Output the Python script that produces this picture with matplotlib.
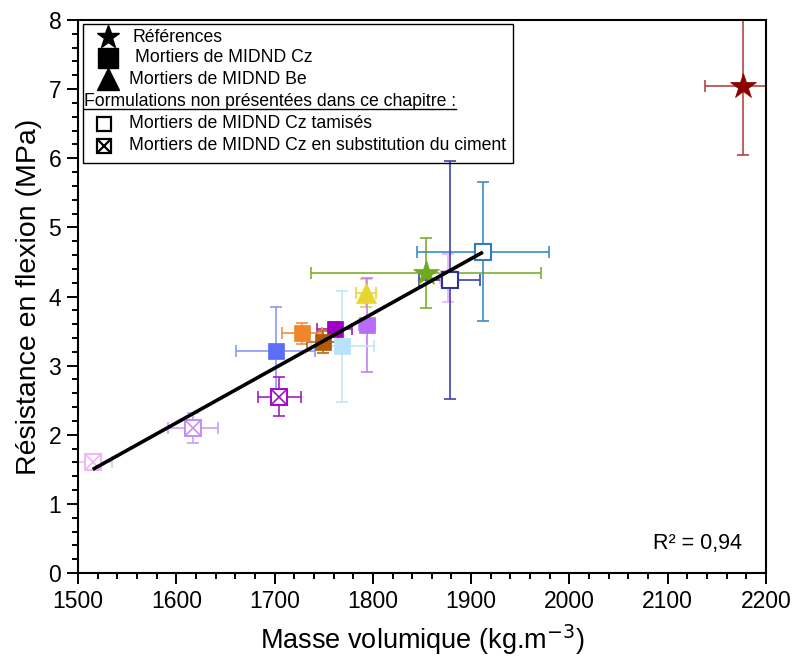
import matplotlib
matplotlib.use("Agg")
import matplotlib.pyplot as plt
import numpy as np
from matplotlib import font_manager
from matplotlib.lines import Line2D
from matplotlib.patches import Rectangle

# --- data ---
density = [2177, 1854, 1912, 1876, 1878, 1793, 1794, 1769, 1761, 1728, 1749, 1701, 1705, 1617, 1515]
flexion = [7.05, 4.34, 4.65, 4.27, 4.24, 4.05, 3.59, 3.28, 3.53, 3.47, 3.34, 3.21, 2.55, 2.10, 1.61]
density_err = [39, 117, 67, 8, 31, 10, 8, 32, 18, 20, 16, 40, 22, 25, 20]
flexion_err = [1.0, 0.5, 1.0, 0.35, 1.72, 0.2, 0.68, 0.8, 0.1, 0.15, 0.16, 0.64, 0.28, 0.22, 0.1]
kinds = ["star", "star", "open", "square", "open", "triangle", "square", "square",
         "square", "square", "square", "square", "xsq", "xsq", "xsq"]
colors = ["#8B0000", "#6FAA1E", "#2E7DBE", "#F0B4F8", "#2B3597", "#E8D630", "#B86CFA",
          "#B8E2FA", "#A000C4", "#F0862A", "#B35A08", "#5A6EF8", "#A010C4", "#C490F8", "#EEB8F4"]
err_colors = ["#B04848", "#7AB030", "#3A8CCB", "#EAB0F8", "#3A44A8", "#E8D630", "#C080FA",
              "#C4E6FA", "#A020C4", "#F09040", "#B86818", "#8A98FA", "#A020C4", "#C8A0F8", "#EEC0F4"]
in_fit = [False] + [True] * 14

r2_text = "R² = 0,94"

narrow = "Liberation Sans Narrow"
names = {f.name for f in font_manager.fontManager.ttflist}
tick_font = narrow if narrow in names else "Liberation Sans"
tick_size = 20 if narrow in names else 16.5

fig = plt.figure(figsize=(7.93, 6.63), dpi=100)
ax = fig.add_axes([78 / 793, 90 / 663, 688 / 793, 553 / 663])

markers = {"star": "*", "open": "s", "square": "s", "triangle": "^", "xsq": "s"}
sizes = {"star": 19, "open": 11, "square": 11, "triangle": 14, "xsq": 11}

for i in range(len(density)):
    k = kinds[i]
    ax.errorbar(density[i], flexion[i], xerr=density_err[i], yerr=flexion_err[i],
                fmt="none", ecolor=err_colors[i], elinewidth=1.2, capsize=4, capthick=1.2, zorder=2)
    face = "white" if k in ("open", "xsq") else colors[i]
    ax.plot(density[i], flexion[i], marker=markers[k], ms=sizes[k], mfc=face,
            mec=colors[i], mew=1.5 if k in ("open", "xsq") else 0.5, ls="none", zorder=3)
    if k == "xsq":
        ax.plot(density[i], flexion[i], marker="x", ms=sizes[k] - 1, mec=colors[i], mew=1.2,
                ls="none", zorder=4)

# linear fit over the MIDND formulations
fx = np.array([d for d, f in zip(density, in_fit) if f])
fy = np.array([v for v, f in zip(flexion, in_fit) if f])
slope, icpt = np.polyfit(fx, fy, 1)
xs = np.array([fx.min(), fx.max()])
ax.plot(xs, slope * xs + icpt, color="black", lw=2.6, zorder=5, solid_capstyle="butt")

ax.set_xlim(1500, 2200)
ax.set_ylim(0, 8)
ax.set_xticks(np.arange(1500, 2201, 100))
ax.set_yticks(np.arange(0, 9, 1))
ax.set_xticks(np.arange(1500, 2201, 20), minor=True)
ax.set_yticks(np.arange(0, 8.01, 0.2), minor=True)
ax.tick_params(which="major", direction="out", length=8, width=1.4, pad=4,
               top=False, right=False)
ax.tick_params(which="minor", direction="out", length=4.5, width=1.4, top=False, right=False)
for lab in ax.get_xticklabels() + ax.get_yticklabels():
    lab.set_fontfamily(tick_font)
    lab.set_fontsize(tick_size)
for s in ax.spines.values():
    s.set_linewidth(1.5)

ax.set_xlabel("Masse volumique (kg.m$^{-3}$)", fontsize=19.5, family="Liberation Sans", labelpad=7)
ax.set_ylabel("Résistance en flexion (MPa)", fontsize=20.5, family="Liberation Sans", labelpad=5)

ax.text(0.965, 0.035, r2_text, transform=ax.transAxes, ha="right", va="bottom",
        fontsize=15.5, family=tick_font)

# custom legend box
lx0, lx1, ly0, ly1 = 5 / 688, 435 / 688, 1 - 163 / 553 + 20 / 553, 1 - 4 / 553
ax.add_patch(Rectangle((lx0, ly0), lx1 - lx0, ly1 - ly0, transform=ax.transAxes,
                       fill=False, ec="black", lw=1.0, zorder=10))

def ay(py):
    return 1 - (py - 20) / 553

def axx(px):
    return (px - 78) / 688

leg_size = 12.7
rows = [("*", 17, "black", "Références", 108, 133, 37),
        ("s", 14, "black", "Mortiers de MIDND Cz", 108, 135, 58),
        ("^", 16, "black", "Mortiers de MIDND Be", 108, 129, 79)]
for m, ms, c, txt, mx, tx, py in rows:
    ax.plot(axx(mx), ay(py), marker=m, ms=ms, color=c, transform=ax.transAxes,
            zorder=11, clip_on=False, ls="none")
    ax.text(axx(tx), ay(py), txt, transform=ax.transAxes, va="center", ha="left",
            fontsize=leg_size, family="Liberation Sans", zorder=11)

head = ax.text(axx(84), ay(101), "Formulations non présentées dans ce chapitre :",
               transform=ax.transAxes, va="center", ha="left", fontsize=leg_size,
               family="Liberation Sans", zorder=11)

ax.plot(axx(104), ay(124), marker="s", ms=10, mfc="white", mec="black", mew=1.6,
        transform=ax.transAxes, zorder=11, clip_on=False, ls="none")
ax.text(axx(129), ay(124), "Mortiers de MIDND Cz tamisés", transform=ax.transAxes,
        va="center", ha="left", fontsize=leg_size, family="Liberation Sans", zorder=11)
ax.plot(axx(104), ay(146), marker="s", ms=10, mfc="white", mec="black", mew=1.6,
        transform=ax.transAxes, zorder=11, clip_on=False, ls="none")
ax.plot(axx(104), ay(146), marker="x", ms=9, mec="black", mew=1.6,
        transform=ax.transAxes, zorder=12, clip_on=False, ls="none")
ax.text(axx(129), ay(146), "Mortiers de MIDND Cz en substitution du ciment",
        transform=ax.transAxes, va="center", ha="left", fontsize=leg_size,
        family="Liberation Sans", zorder=11)

# underline for the heading
fig.canvas.draw()
bb = head.get_window_extent()
inv = ax.transAxes.inverted()
(u0, v0), (u1, _) = inv.transform([(bb.x0, bb.y0 + 1), (bb.x1, bb.y0 + 1)])
ax.add_line(Line2D([u0, u1], [v0, v0], transform=ax.transAxes, color="black", lw=1.0, zorder=11))

fig.savefig("out.png", dpi=100)
